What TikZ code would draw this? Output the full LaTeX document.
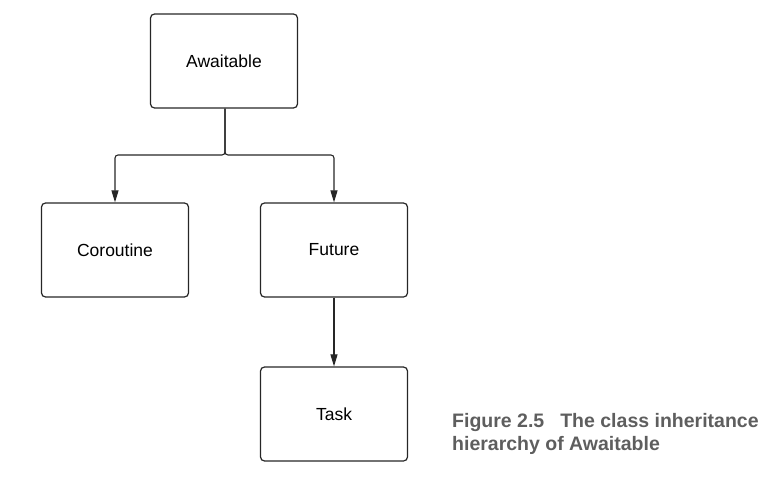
\documentclass[tikz,border=0pt]{standalone}
\usepackage{fontspec}
\setmainfont{Liberation Sans}
\usetikzlibrary{arrows.meta}
\definecolor{captiongray}{HTML}{5E5E5E}
\begin{document}
\begin{tikzpicture}[x=1pt,y=-1pt,
  classbox/.style={draw=black!85,line width=1.2pt,rounded corners=4pt,
    minimum width=147pt,minimum height=94pt,inner sep=0pt,font=\fontsize{17.5}{19}\selectfont},
  link/.style={draw=black!85,line width=1.1pt,rounded corners=3pt,
    -{Triangle[length=12pt,width=7pt]}},
  caption/.style={text=captiongray,font=\bfseries\fontsize{19.5}{23}\selectfont,
    align=left,anchor=north west,inner sep=0pt}]
\useasboundingbox (0,0) rectangle (780,479);
\node[classbox] (awaitable) at (224,61) {Awaitable};
\node[classbox] (coroutine) at (115,250) {Coroutine};
\node[classbox] (future) at (334,250) {Future};
\node[classbox] (task) at (334,414) {Task};
\coordinate (split) at (225,155);
\draw[link] (awaitable.south -| split) |- (coroutine.north |- split) -- (coroutine.north);
\draw[link] (awaitable.south -| split) |- (future.north |- split) -- (future.north);
\draw[link] (future) -- (task);
\node[caption] (cap) at (452,413) {Figure 2.5\hspace{16pt}The class inheritance\\hierarchy of Awaitable};
\end{tikzpicture}
\end{document}
